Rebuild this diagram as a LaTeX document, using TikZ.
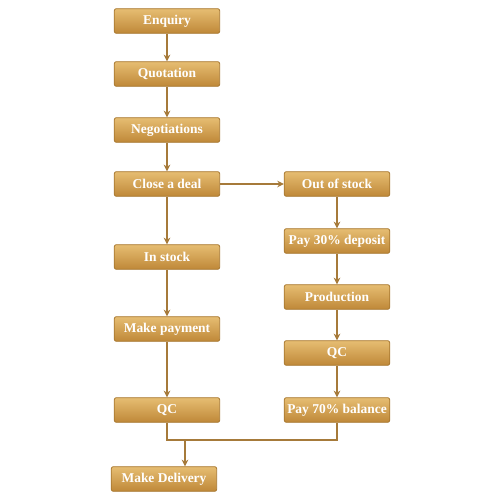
\documentclass[tikz,border=0pt]{standalone}
\usepackage{fontspec}
\setmainfont{Liberation Serif}
\usetikzlibrary{arrows.meta,positioning}
\definecolor{boxtop}{HTML}{E6BD72}
\definecolor{boxbot}{HTML}{BF8838}
\definecolor{boxedge}{HTML}{A7772F}
\definecolor{linec}{HTML}{A67A3A}
\tikzset{
  flowbox/.style={draw=boxedge, line width=0.6pt, rounded corners=1.5pt,
    top color=boxtop, bottom color=boxbot, minimum width=79pt, minimum height=18.5pt,
    inner sep=0pt, text=white, font=\fontsize{10.1}{12}\selectfont\bfseries},
  conn/.style={draw=linec, line width=0.9pt, -{Stealth[length=5pt,width=5pt]}},
  plainconn/.style={draw=linec, line width=0.9pt}
}
\begin{document}
\begin{tikzpicture}[x=0.75pt,y=-0.75pt]
\useasboundingbox (0,0) rectangle (500,500);
\node[flowbox] (enq) at (167,21) {Enquiry};
\node[flowbox] (quo) at (167,74) {Quotation};
\node[flowbox] (neg) at (167,130) {Negotiations};
\node[flowbox] (close) at (167,184) {Close a deal};
\node[flowbox] (instock) at (167,257) {In stock};
\node[flowbox] (pay) at (167,329) {Make payment};
\node[flowbox] (qcl) at (167,410) {QC};
\node[flowbox] (deliv) at (164,479) {Make Delivery};
\node[flowbox] (oos) at (337,184) {Out of stock};
\node[flowbox] (p30) at (337,241) {Pay 30\% deposit};
\node[flowbox] (prod) at (337,297) {Production};
\node[flowbox] (qcr) at (337,353) {QC};
\node[flowbox] (p70) at (337,410) {Pay 70\% balance};
\coordinate (ml) at (167,440);
\coordinate (mr) at (337,440);
\coordinate (md) at (185,440);
\draw[conn] (enq) -- (quo);
\draw[conn] (quo) -- (neg);
\draw[conn] (neg) -- (close);
\draw[conn] (close) -- (instock);
\draw[conn] (instock) -- (pay);
\draw[conn] (pay) -- (qcl);
\draw[conn] (close) -- (oos);
\draw[conn] (oos) -- (p30);
\draw[conn] (p30) -- (prod);
\draw[conn] (prod) -- (qcr);
\draw[conn] (qcr) -- (p70);
\draw[plainconn] (qcl.south) -- (ml) -- (mr) -- (p70.south);
\draw[conn] (md) -- (md |- deliv.north);
\end{tikzpicture}
\end{document}
